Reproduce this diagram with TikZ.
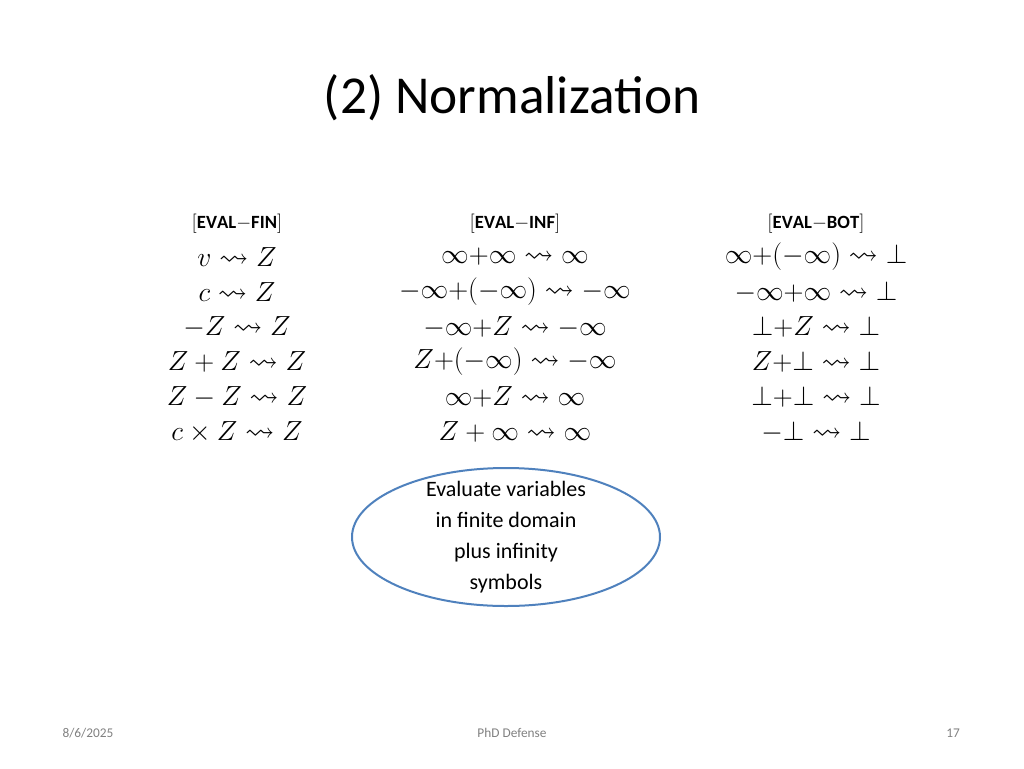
\documentclass[tikz,border=0pt]{standalone}
\usepackage{amssymb}
\usepackage{fontspec}
\setmainfont{Carlito}
\begin{document}
\begin{tikzpicture}[x=0.75pt,y=-0.75pt,
  mrow/.style={font=\fontsize{22}{24}\selectfont, inner sep=0pt},
  hdr/.style={font=\fontsize{14}{16}\selectfont, inner sep=0pt},
  foot/.style={font=\fontsize{10}{12}\selectfont, text=gray, inner sep=0pt}]
\useasboundingbox (0,0) rectangle (1024,768);
\node[font=\fontsize{40}{48}\selectfont] (title) at (512,98) {(2) Normalization};
% column 1
\node[hdr] (h1) at (237,224) {$[\mathbf{EVAL{-}FIN}]$};
\node[mrow] (a1) at (237,257) {$v\rightsquigarrow Z$};
\node[mrow] (a2) at (237,292) {$c\rightsquigarrow Z$};
\node[mrow] (a3) at (237,327) {$-Z\rightsquigarrow Z$};
\node[mrow] (a4) at (237,362) {$Z+Z\rightsquigarrow Z$};
\node[mrow] (a5) at (237,397) {$Z-Z\rightsquigarrow Z$};
\node[mrow] (a6) at (237,432) {$c\times Z\rightsquigarrow Z$};
% column 2
\node[hdr] (h2) at (515,224) {$[\mathbf{EVAL{-}INF}]$};
\node[mrow] (b1) at (515,257) {$\infty{+}\infty\rightsquigarrow\infty$};
\node[mrow] (b2) at (515,292) {$-\infty{+}({-}\infty)\rightsquigarrow-\infty$};
\node[mrow] (b3) at (515,327) {$-\infty{+}Z\rightsquigarrow-\infty$};
\node[mrow] (b4) at (515,362) {$Z{+}({-}\infty)\rightsquigarrow-\infty$};
\node[mrow] (b5) at (515,397) {$\infty{+}Z\rightsquigarrow\infty$};
\node[mrow] (b6) at (515,432) {$Z+\infty\rightsquigarrow\infty$};
% column 3
\node[hdr] (h3) at (816,224) {$[\mathbf{EVAL{-}BOT}]$};
\node[mrow] (c1) at (816,257) {$\infty{+}({-}\infty)\rightsquigarrow\bot$};
\node[mrow] (c2) at (816,292) {$-\infty{+}\infty\rightsquigarrow\bot$};
\node[mrow] (c3) at (816,327) {$\bot{+}Z\rightsquigarrow\bot$};
\node[mrow] (c4) at (816,362) {$Z{+}\bot\rightsquigarrow\bot$};
\node[mrow] (c5) at (816,397) {$\bot{+}\bot\rightsquigarrow\bot$};
\node[mrow] (c6) at (816,432) {$-\bot\rightsquigarrow\bot$};
% ellipse
\draw[color={rgb,255:red,79;green,129;blue,189}, line width=1.5pt] (506,537) ellipse [x radius=154, y radius=69];
\node[align=center, font=\fontsize{16.5}{23.2}\selectfont] (e) at (506,537) {Evaluate variables\\in finite domain\\plus infinity\\symbols};
% footer
\node[foot] (f1) at (88,733) {8/6/2025};
\node[foot] (f2) at (512,733) {PhD Defense};
\node[foot] (f3) at (953,733) {17};
\end{tikzpicture}
\end{document}
